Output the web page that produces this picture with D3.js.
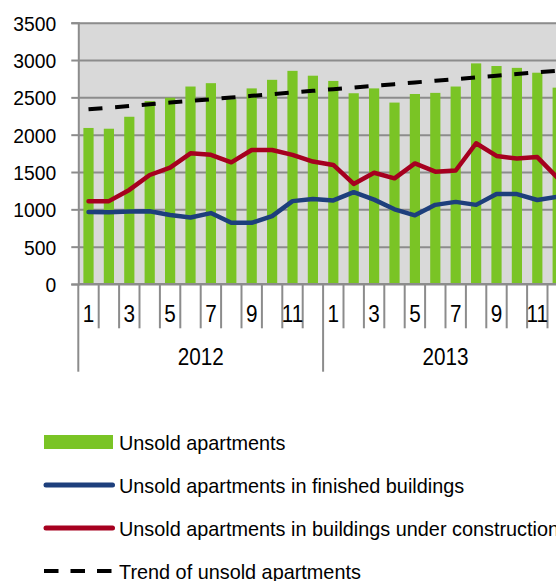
<!DOCTYPE html>
<html>
<head>
<meta charset="utf-8">
<script src="https://cdn.jsdelivr.net/npm/d3@7"></script>
<style>
  body { margin: 0; background: #fff; }
  svg { display: block; font-family: "Liberation Sans", Arial, sans-serif; }
</style>
</head>
<body>
<div id="chart"></div>
<script>
// Data
const years = ["2012", "2013"];
const monthLabels = ["1", "2", "3", "4", "5", "6", "7", "8", "9", "10", "11", "12"];
const yTicks = [0, 500, 1000, 1500, 2000, 2500, 3000, 3500];

const unsold = [2090, 2080, 2240, 2450, 2495, 2645, 2690, 2475, 2620, 2735, 2855, 2790,
                2720, 2555, 2620, 2430, 2545, 2560, 2645, 2955, 2920, 2895, 2830, 2630];
const finished = [965, 960, 970, 975, 925, 890, 950, 820, 820, 910, 1110, 1140,
                  1120, 1230, 1130, 1000, 920, 1060, 1100, 1060, 1205, 1205, 1125, 1170];
const construction = [1110, 1110, 1260, 1460, 1560, 1750, 1730, 1630, 1795, 1795, 1730, 1640,
                      1595, 1340, 1490, 1415, 1615, 1505, 1520, 1885, 1715, 1680, 1700, 1420];
const trend = [2340, 2362, 2385, 2407, 2430, 2452, 2475, 2497, 2520, 2542, 2565, 2587,
               2610, 2632, 2655, 2677, 2700, 2722, 2745, 2767, 2790, 2812, 2835, 2857];

const legendLabels = [
  "Unsold apartments",
  "Unsold apartments in finished buildings",
  "Unsold apartments in buildings under construction",
  "Trend of unsold apartments"
];

const W = 556, H = 581;
const plotLeft = 78.3, plotTop = 22.7, plotBottom = 284;
const step = 20.4;
const green = "#7ac425", blue = "#1d3f7c", red = "#a6001f", gridColor = "#8c8c8c";

const periods = d3.range(years.length * monthLabels.length);

const svg = d3.select("#chart").append("svg")
  .attr("width", W)
  .attr("height", H);

// the chart is wider than the window, the last month is cut at the right edge
const x = d3.scaleBand()
  .domain(periods)
  .range([plotLeft, plotLeft + periods.length * step])
  .paddingInner(0.5)
  .paddingOuter(0.25);

const y = d3.scaleLinear()
  .domain([0, 3500])
  .range([plotBottom, plotTop]);

const xEnd = x.range()[1];
const cx = i => x(i) + x.bandwidth() / 2;

// plot background
svg.append("rect")
  .attr("x", plotLeft)
  .attr("y", y(3500))
  .attr("width", xEnd - plotLeft)
  .attr("height", y(0) - y(3500))
  .attr("fill", "#d9d9d9");

// horizontal gridlines
const grid = svg.append("g")
  .attr("transform", `translate(${plotLeft},0)`)
  .call(d3.axisLeft(y).tickValues(yTicks).tickSize(-(xEnd - plotLeft)).tickFormat(""));
grid.select(".domain").remove();
grid.selectAll("line").attr("stroke", gridColor).attr("stroke-width", 2);

// bars
svg.selectAll(".bar")
  .data(unsold)
  .enter().append("rect")
  .attr("class", "bar")
  .attr("x", (d, i) => x(i))
  .attr("y", d => y(d))
  .attr("width", x.bandwidth())
  .attr("height", d => y(0) - y(d))
  .attr("fill", green);

const line = d3.line()
  .x((d, i) => cx(i))
  .y(d => y(d));

svg.append("path")
  .datum(finished)
  .attr("d", line)
  .attr("fill", "none")
  .attr("stroke", blue)
  .attr("stroke-width", 4.5)
  .attr("stroke-linejoin", "round")
  .attr("stroke-linecap", "round");

svg.append("path")
  .datum(construction)
  .attr("d", line)
  .attr("fill", "none")
  .attr("stroke", red)
  .attr("stroke-width", 4.5)
  .attr("stroke-linejoin", "round")
  .attr("stroke-linecap", "round");

svg.append("path")
  .datum(trend)
  .attr("d", line)
  .attr("fill", "none")
  .attr("stroke", "#000")
  .attr("stroke-width", 4)
  .attr("stroke-dasharray", "14,12.7");

// y axis
const yAxis = svg.append("g")
  .attr("transform", `translate(${plotLeft},0)`)
  .call(d3.axisLeft(y).tickValues(yTicks).tickSize(7).tickFormat(d3.format("d")));
yAxis.select(".domain").attr("stroke", gridColor).attr("stroke-width", 2);
yAxis.selectAll("line").attr("stroke", gridColor).attr("stroke-width", 2);
yAxis.selectAll("text")
  .attr("x", null)
  .attr("dy", "0.36em")
  .attr("transform", "translate(-22,0) scale(0.92,1)")
  .style("font-size", "21px")
  .attr("fill", "#000");

// x axis: month row and year row
svg.append("line")
  .attr("x1", plotLeft).attr("x2", xEnd)
  .attr("y1", y(0)).attr("y2", y(0))
  .attr("stroke", gridColor).attr("stroke-width", 2);

const bounds = d3.range(periods.length + 1);
svg.selectAll(".sep")
  .data(bounds)
  .enter().append("line")
  .attr("class", "sep")
  .attr("x1", i => plotLeft + i * x.step())
  .attr("x2", i => plotLeft + i * x.step())
  .attr("y1", y(0))
  .attr("y2", i => i % monthLabels.length === 0 ? 371.7 : 328.3)
  .attr("stroke", gridColor)
  .attr("stroke-width", 2);

const monthAxis = svg.append("g")
  .attr("transform", `translate(0,${y(0)})`)
  .call(d3.axisBottom(x).tickSize(0)
    .tickFormat(i => i % 2 === 0 ? monthLabels[i % monthLabels.length] : ""));
monthAxis.select(".domain").remove();
monthAxis.selectAll("text")
  .attr("y", null)
  .attr("dy", null)
  .attr("transform", "translate(0,38) scale(0.9,1)")
  .style("font-size", "23px")
  .attr("fill", "#000");

const xYear = d3.scaleBand()
  .domain(years)
  .range([plotLeft, xEnd]);

const yearAxis = svg.append("g")
  .attr("transform", `translate(0,${y(0)})`)
  .call(d3.axisBottom(xYear).tickSize(0));
yearAxis.select(".domain").remove();
yearAxis.selectAll("text")
  .attr("y", null)
  .attr("dy", null)
  .attr("transform", "translate(0,81) scale(0.9,1)")
  .style("font-size", "23px")
  .attr("fill", "#000");

// legend
const legend = svg.append("g");
const rowY = i => 442 + i * 43;

legend.selectAll(".legend-item")
  .data(legendLabels)
  .enter().append("g")
  .attr("class", "legend-item")
  .each(function(d, i) {
    const g = d3.select(this);
    const ly = rowY(i);
    if (i === 0) {
      g.append("rect")
        .attr("x", 44).attr("y", ly - 7)
        .attr("width", 69).attr("height", 14)
        .attr("fill", green);
    } else {
      g.append("line")
        .attr("x1", i === 3 ? 44 : 46).attr("x2", i === 3 ? 113 : 112.5)
        .attr("y1", ly).attr("y2", ly)
        .attr("stroke", i === 1 ? blue : i === 2 ? red : "#000")
        .attr("stroke-width", i === 3 ? 4 : 5)
        .attr("stroke-linecap", i === 3 ? "butt" : "round")
        .attr("stroke-dasharray", i === 3 ? "14.5,12" : null);
    }
    g.append("text")
      .attr("transform", `translate(119,${ly}) scale(0.945,1)`)
      .attr("dy", "0.36em")
      .style("font-size", "21px")
      .attr("fill", "#000")
      .text(d);
  });
</script>
</body>
</html>
